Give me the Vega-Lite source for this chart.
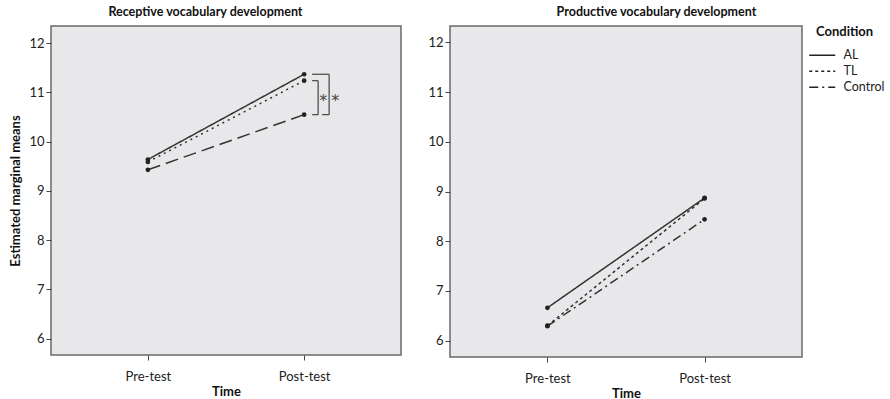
{
  "$schema": "https://vega.github.io/schema/vega-lite/v6.json",
  "padding": {"left": 9, "top": 4, "right": 0, "bottom": 0},
  "background": "white",
  "config": {
    "font": "Lato",
    "view": {"fill": "#e8e8ea", "stroke": "#6a6a6a", "strokeWidth": 1.5},
    "axis": {"labelFont": "Lato", "labelFontSize": 13, "labelColor": "#222", "tickColor": "#444", "tickSize": 5, "domain": false, "grid": false, "titleFont": "Lato", "titleFontSize": 13, "titleFontWeight": "bold", "titleColor": "#111"},
    "title": {"font": "Lato", "fontSize": 12.5, "fontWeight": "bold", "color": "#111", "offset": 8, "frame": "bounds"}
  },
  "datasets": {
    "receptive": [
      {"time": "Pre-test", "condition": "AL", "mean": 9.64},
      {"time": "Post-test", "condition": "AL", "mean": 11.37},
      {"time": "Pre-test", "condition": "TL", "mean": 9.59},
      {"time": "Post-test", "condition": "TL", "mean": 11.24},
      {"time": "Pre-test", "condition": "Control", "mean": 9.43},
      {"time": "Post-test", "condition": "Control", "mean": 10.55}
    ],
    "productive": [
      {"time": "Pre-test", "condition": "AL", "mean": 6.66},
      {"time": "Post-test", "condition": "AL", "mean": 8.87},
      {"time": "Pre-test", "condition": "TL", "mean": 6.30},
      {"time": "Post-test", "condition": "TL", "mean": 8.86},
      {"time": "Pre-test", "condition": "Control", "mean": 6.29},
      {"time": "Post-test", "condition": "Control", "mean": 8.44}
    ],
    "brackets": [
      {"pair": "AL-Control", "time": "Post-test", "top": 11.37, "bottom": 10.55, "mid": 10.92, "label": "*"},
      {"pair": "TL-Control", "time": "Post-test", "top": 11.24, "bottom": 10.55, "mid": 10.92, "label": "*"}
    ]
  },
  "spacing": 25,
  "resolve": {"scale": {"strokeDash": "independent"}},
  "hconcat": [
    {
      "width": 350,
      "height": 329,
      "title": "Receptive vocabulary development",
      "layer": [
        {
          "data": {"name": "receptive"},
          "mark": {"type": "line", "color": "#333", "strokeWidth": 1.5},
          "encoding": {
            "x": {"field": "time", "type": "ordinal", "sort": ["Pre-test", "Post-test"], "scale": {"type": "point", "padding": 0.62, "domain": ["Pre-test", "Post-test"]}, "axis": {"labelAngle": 0, "title": "Time", "labelPadding": 10, "titlePadding": 2}},
            "y": {"field": "mean", "type": "quantitative", "scale": {"domain": [5.67, 12.35], "nice": false, "zero": false}, "axis": {"values": [6, 7, 8, 9, 10, 11, 12], "title": "Estimated marginal means", "titlePadding": 6}},
            "strokeDash": {"field": "condition", "type": "nominal", "scale": {"domain": ["AL", "TL", "Control"], "range": [[1, 0], [2, 4], [13, 6]]}, "legend": null}
          }
        },
        {
          "data": {"name": "receptive"},
          "mark": {"type": "point", "filled": true, "color": "#222", "size": 22, "opacity": 1},
          "encoding": {
            "x": {"field": "time", "type": "ordinal", "sort": ["Pre-test", "Post-test"]},
            "y": {"field": "mean", "type": "quantitative"}
          }
        },
        {
          "data": {"name": "brackets"},
          "transform": [{"filter": "datum.pair == 'TL-Control'"}],
          "layer": [
            {"mark": {"type": "rule", "color": "#444", "strokeWidth": 1.2, "xOffset": 14},
             "encoding": {"x": {"field": "time", "type": "ordinal", "sort": ["Pre-test", "Post-test"]}, "y": {"field": "top", "type": "quantitative"}, "y2": {"field": "bottom"}}},
            {"mark": {"type": "rule", "color": "#444", "strokeWidth": 1.2, "xOffset": 8, "x2Offset": 14},
             "encoding": {"x": {"field": "time", "type": "ordinal", "sort": ["Pre-test", "Post-test"]}, "x2": {"field": "time"}, "y": {"field": "top", "type": "quantitative"}}},
            {"mark": {"type": "rule", "color": "#444", "strokeWidth": 1.2, "xOffset": 8, "x2Offset": 14},
             "encoding": {"x": {"field": "time", "type": "ordinal", "sort": ["Pre-test", "Post-test"]}, "x2": {"field": "time"}, "y": {"field": "bottom", "type": "quantitative"}}},
            {"mark": {"type": "text", "color": "#444", "fontSize": 16, "font": "DejaVu Sans", "dx": 19, "dy": 5, "baseline": "middle"},
             "encoding": {"x": {"field": "time", "type": "ordinal", "sort": ["Pre-test", "Post-test"]}, "y": {"field": "mid", "type": "quantitative"}, "text": {"field": "label"}}}
          ]
        },
        {
          "data": {"name": "brackets"},
          "transform": [{"filter": "datum.pair == 'AL-Control'"}],
          "layer": [
            {"mark": {"type": "rule", "color": "#444", "strokeWidth": 1.2, "xOffset": 25},
             "encoding": {"x": {"field": "time", "type": "ordinal", "sort": ["Pre-test", "Post-test"]}, "y": {"field": "top", "type": "quantitative"}, "y2": {"field": "bottom"}}},
            {"mark": {"type": "rule", "color": "#444", "strokeWidth": 1.2, "xOffset": 8, "x2Offset": 25},
             "encoding": {"x": {"field": "time", "type": "ordinal", "sort": ["Pre-test", "Post-test"]}, "x2": {"field": "time"}, "y": {"field": "top", "type": "quantitative"}}},
            {"mark": {"type": "rule", "color": "#444", "strokeWidth": 1.2, "xOffset": 18, "x2Offset": 25},
             "encoding": {"x": {"field": "time", "type": "ordinal", "sort": ["Pre-test", "Post-test"]}, "x2": {"field": "time"}, "y": {"field": "bottom", "type": "quantitative"}}},
            {"mark": {"type": "text", "color": "#444", "fontSize": 16, "font": "DejaVu Sans", "dx": 31, "dy": 5, "baseline": "middle"},
             "encoding": {"x": {"field": "time", "type": "ordinal", "sort": ["Pre-test", "Post-test"]}, "y": {"field": "mid", "type": "quantitative"}, "text": {"field": "label"}}}
          ]
        }
      ]
    },
    {
      "width": 352,
      "height": 331,
      "title": "Productive vocabulary development",
      "layer": [
        {
          "data": {"name": "productive"},
          "mark": {"type": "line", "color": "#333", "strokeWidth": 1.5},
          "encoding": {
            "x": {"field": "time", "type": "ordinal", "sort": ["Pre-test", "Post-test"], "scale": {"type": "point", "padding": 0.62, "domain": ["Pre-test", "Post-test"]}, "axis": {"labelAngle": 0, "title": "Time", "labelPadding": 10, "titlePadding": 2}},
            "y": {"field": "mean", "type": "quantitative", "scale": {"domain": [5.67, 12.33], "nice": false, "zero": false}, "axis": {"values": [6, 7, 8, 9, 10, 11, 12], "title": null}},
            "strokeDash": {
              "field": "condition", "type": "nominal",
              "scale": {"domain": ["AL", "TL", "Control"], "range": [[1, 0], [3, 3], [9, 4, 2, 4]]},
              "legend": {"title": "Condition", "orient": "right", "offset": 14, "titleFontSize": 13, "titleFontWeight": "bold", "titleColor": "#111", "titlePadding": 10, "labelFontSize": 12.5, "labelColor": "#222", "symbolType": "M-2.6,0H2.6", "symbolSize": 100, "symbolStrokeColor": "#222", "symbolFillColor": "transparent", "symbolStrokeWidth": 1.5, "rowPadding": 3, "labelOffset": 15}
            }
          }
        },
        {
          "data": {"name": "productive"},
          "mark": {"type": "point", "filled": true, "color": "#222", "size": 22, "opacity": 1},
          "encoding": {
            "x": {"field": "time", "type": "ordinal", "sort": ["Pre-test", "Post-test"]},
            "y": {"field": "mean", "type": "quantitative"}
          }
        }
      ]
    }
  ]
}
